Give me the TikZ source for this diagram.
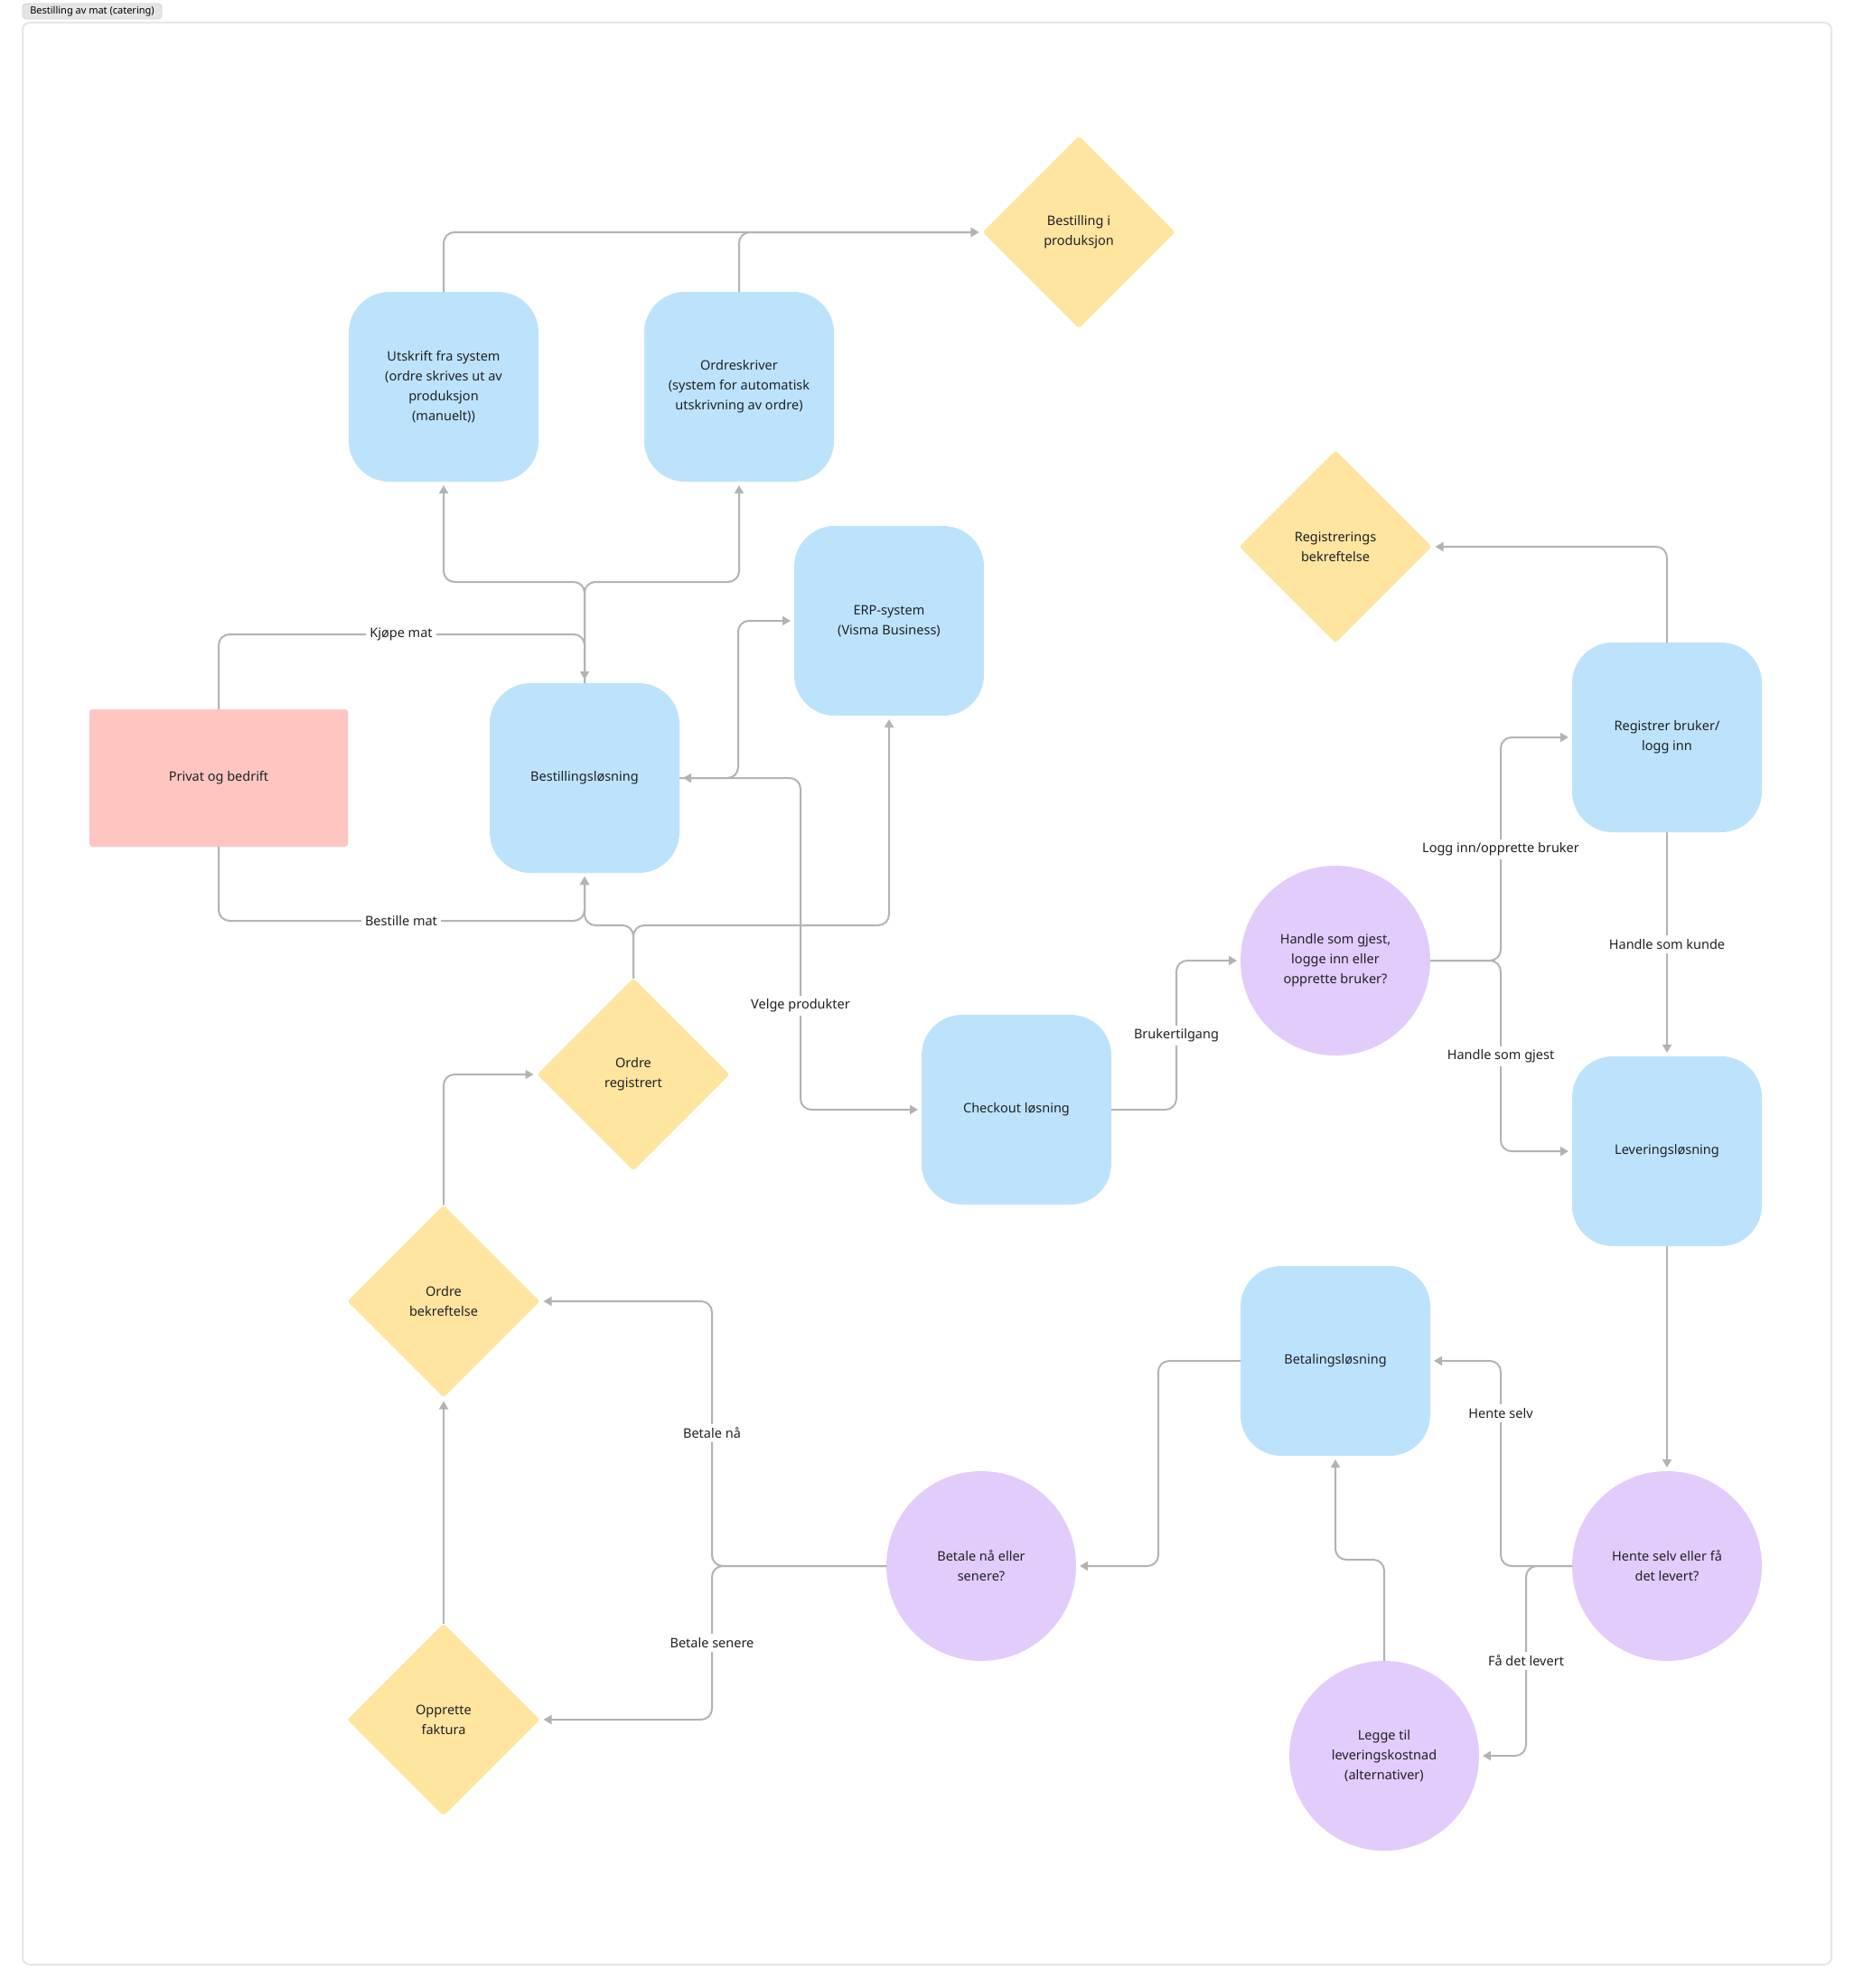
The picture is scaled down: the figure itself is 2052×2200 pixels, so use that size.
\documentclass[tikz,border=0pt]{standalone}
\usepackage{fontspec}
\setmainfont{Noto Sans}
\usetikzlibrary{arrows.meta,shapes.geometric}

\definecolor{boxblue}{RGB}{189,227,252}
\definecolor{dyellow}{RGB}{255,229,160}
\definecolor{cpurple}{RGB}{226,204,251}
\definecolor{ppink}{RGB}{255,198,193}
\definecolor{lgray}{RGB}{179,179,179}
\definecolor{txt}{RGB}{32,32,36}
\definecolor{framegray}{RGB}{230,230,230}
\definecolor{tagfill}{RGB}{229,229,229}
\definecolor{tagdraw}{RGB}{208,208,208}

\begin{document}
\begin{tikzpicture}[x=1pt,y=-1pt,
  every node/.style={font=\fontsize{14.5}{22}\selectfont, text=txt},
  bbox/.style={rectangle, rounded corners=45pt, fill=boxblue, minimum width=210pt, minimum height=210pt, align=center, inner sep=0pt, outer sep=0pt},
  dbox/.style={diamond, rounded corners=3pt, fill=dyellow, minimum width=213pt, minimum height=213pt, aspect=1, align=center, inner sep=0pt, outer sep=0pt},
  cbox/.style={circle, fill=cpurple, minimum size=210pt, align=center, inner sep=0pt, outer sep=0pt},
  pbox/.style={rectangle, rounded corners=3pt, fill=ppink, minimum width=286pt, minimum height=152pt, align=center, inner sep=0pt, outer sep=0pt},
  conn/.style={draw=lgray, line width=2pt, rounded corners=12pt},
  arr/.style={-{Triangle[length=9pt,width=10pt]}, shorten >=4pt},
  biarr/.style={{Triangle[length=9pt,width=10pt]}-{Triangle[length=9pt,width=10pt]}, shorten >=4pt, shorten <=4pt},
  lbl/.style={fill=white, inner sep=4pt},
  tag/.style={rectangle, rounded corners=4pt, fill=tagfill, draw=tagdraw, line width=0.8pt, minimum width=154pt, minimum height=17pt, inner sep=0pt, font=\fontsize{11}{13}\selectfont, text=black}
]
\useasboundingbox (0,0) rectangle (2052,2200);
\draw[draw=framegray, line width=2pt, rounded corners=8pt] (25,25) rectangle (2027,2174);
\node[tag] (title) at (102,12.5) {Bestilling av mat (catering)};

% nodes
\node[bbox] (utskrift) at (491,428) {Utskrift fra system\\(ordre skrives ut av\\produksjon\\(manuelt))};
\node[bbox] (ordre) at (818,428) {Ordreskriver\\(system for automatisk\\utskrivning av ordre)};
\node[dbox] (prod) at (1194,257) {Bestilling i\\produksjon};
\node[bbox] (erp) at (984,687) {ERP-system\\(Visma Business)};
\node[pbox] (privat) at (242,861) {Privat og bedrift};
\node[bbox] (bestl) at (647,861) {Bestillingsløsning};
\node[dbox] (ordreg) at (701,1189) {Ordre\\registrert};
\node[bbox] (checkout) at (1125,1228) {Checkout løsning};
\node[dbox] (regbek) at (1478,605) {Registrerings\\bekreftelse};
\node[bbox] (registrer) at (1845,816) {Registrer bruker/\\logg inn};
\node[cbox] (handle) at (1478,1063) {Handle som gjest,\\logge inn eller\\opprette bruker?};
\node[bbox] (levering) at (1845,1274) {Leveringsløsning};
\node[dbox] (ordbek) at (491,1440) {Ordre\\bekreftelse};
\node[bbox] (betaling) at (1478,1506) {Betalingsløsning};
\node[cbox] (betale) at (1086,1733) {Betale nå eller\\senere?};
\node[cbox] (hente) at (1845,1733) {Hente selv eller få\\det levert?};
\node[dbox] (faktura) at (491,1903) {Opprette\\faktura};
\node[cbox] (legge) at (1532,1943) {Legge til\\leveringskostnad\\(alternativer)};

% connectors
\draw[conn,arr] (utskrift.north) |- (prod.west);
\draw[conn,arr] (ordre.north) |- (prod.west);
\draw[conn,arr] (bestl.north) -- (647,644) -| (utskrift.south);
\draw[conn,arr] (bestl.north) -- (647,644) -| (ordre.south);
\draw[conn,arr] (privat.north) |- (647,702) -- (bestl.north);
\draw[conn,arr] (privat.south) |- (647,1019) -- (bestl.south);
\draw[conn,arr] (ordreg.north) -- (701,1024) -| (bestl.south);
\draw[conn,arr] (ordreg.north) -- (701,1024) -| (erp.south);
\draw[conn,biarr] (bestl.east) -- (817,861) |- (erp.west);
\draw[conn,arr] (bestl.east) -- (886,861) |- (checkout.west);
\draw[conn,arr] (checkout.east) -- (1302,1228) |- (handle.west);
\draw[conn,arr] (handle.east) -- (1661,1063) |- (registrer.west);
\draw[conn,arr] (handle.east) -- (1661,1063) |- (levering.west);
\draw[conn,arr] (registrer.north) |- (regbek.east);
\draw[conn,arr] (registrer.south) -- (levering.north);
\draw[conn,arr] (levering.south) -- (hente.north);
\draw[conn,arr] (hente.west) -- (1661,1733) |- (betaling.east);
\draw[conn,arr] (hente.west) -- (1689,1733) |- (legge.east);
\draw[conn,arr] (legge.north) |- (1478,1726) -- (betaling.south);
\draw[conn,arr] (betaling.west) -- (1282,1506) |- (betale.east);
\draw[conn,arr] (betale.west) -- (788,1733) |- (ordbek.east);
\draw[conn,arr] (betale.west) -- (788,1733) |- (faktura.east);
\draw[conn,arr] (faktura.north) -- (ordbek.south);
\draw[conn,arr] (ordbek.north) |- (ordreg.west);

% labels
\node[lbl] (lkjope) at (444,702) {Kjøpe mat};
\node[lbl] (lbestille) at (444,1019) {Bestille mat};
\node[lbl] (lvelge) at (886,1113) {Velge produkter};
\node[lbl] (lbruker) at (1302,1146) {Brukertilgang};
\node[lbl] (llogg) at (1661,940) {Logg inn/opprette bruker};
\node[lbl] (lgjest) at (1661,1169) {Handle som gjest};
\node[lbl] (lkunde) at (1845,1045) {Handle som kunde};
\node[lbl] (lhente) at (1661,1564) {Hente selv};
\node[lbl] (lfa) at (1689,1838) {Få det levert};
\node[lbl] (lna) at (788,1586) {Betale nå};
\node[lbl] (lsenere) at (788,1818) {Betale senere};
\end{tikzpicture}
\end{document}
